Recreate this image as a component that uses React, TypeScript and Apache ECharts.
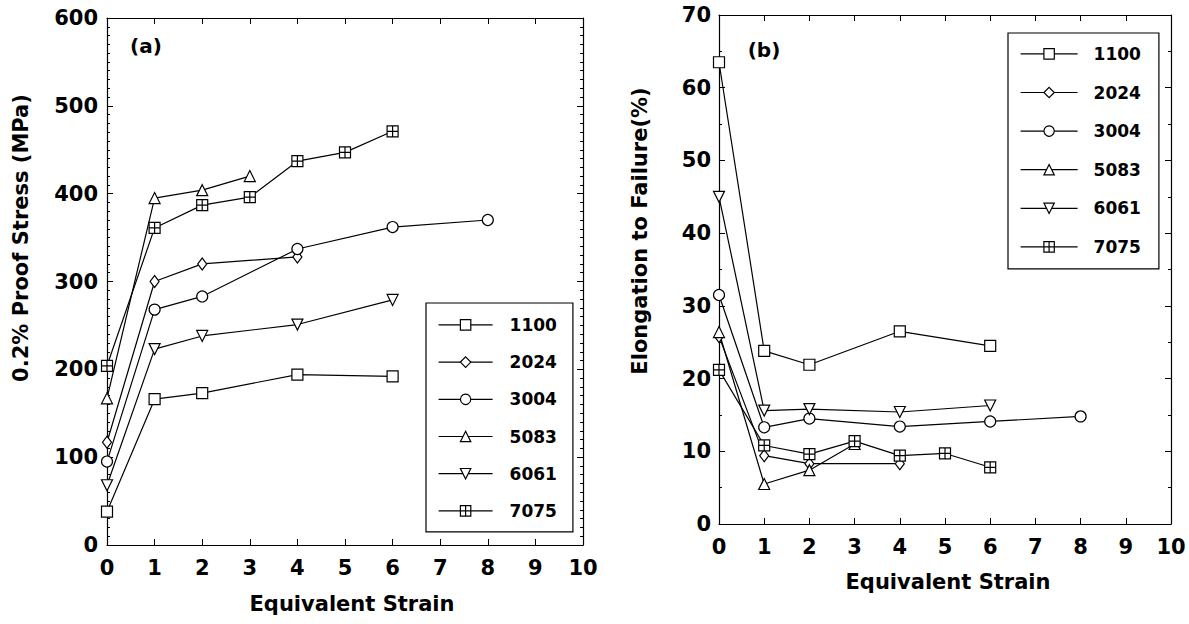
import React, { useEffect, useRef } from "react";
import * as echarts from "echarts";

const alloys = ["1100", "2024", "3004", "5083", "6061", "7075"];

const strain1100 = [0, 1, 2, 4, 6];
const strain2024 = [0, 1, 2, 4];
const strain3004 = [0, 1, 2, 4, 6, 8];
const strain5083 = [0, 1, 2, 3];
const strain6061 = [0, 1, 2, 4, 6];
const strain7075 = [0, 1, 2, 3, 4, 5, 6];

const proof1100 = [38, 166, 173, 194, 192];
const proof2024 = [117, 300, 320, 328];
const proof3004 = [95, 268, 283, 337, 362, 370];
const proof5083 = [167, 395, 404, 420];
const proof6061 = [68, 223, 238, 251, 279];
const proof7075 = [204, 361, 387, 396, 437, 447, 471];

const elong1100 = [63.5, 23.8, 21.9, 26.5, 24.5];
const elong2024 = [25.8, 9.4, 8.3, 8.3];
const elong3004 = [31.5, 13.3, 14.5, 13.4, 14.1, 14.8];
const elong5083 = [26.4, 5.5, 7.4, 11.0];
const elong6061 = [45, 15.6, 15.8, 15.4, 16.3];
const elong7075 = [21.2, 10.8, 9.6, 11.4, 9.4, 9.7, 7.8];

const strainTicks = [0, 10, 1];
const proofTicks = [0, 600, 100];
const elongTicks = [0, 70, 10];

const strains = [strain1100, strain2024, strain3004, strain5083, strain6061, strain7075];
const proofs = [proof1100, proof2024, proof3004, proof5083, proof6061, proof7075];
const elongs = [elong1100, elong2024, elong3004, elong5083, elong6061, elong7075];

const symbols = ["rect", "diamond", "circle", "triangle", "triangle", "path://M0 0H10V10H0ZM5 0V10M0 5H10"];
const symbolRotates = [0, 0, 0, 0, 180, 0];
const symbolSizes: any[] = [11, [9, 12], 11, 11, 11, 11];

const FONT = "DejaVu Sans";

function makeSeries(i: number, panel: number) {
  const xs = strains[i];
  const ys = panel === 0 ? proofs[i] : elongs[i];
  return {
    type: "line",
    name: alloys[i],
    xAxisIndex: panel * 2,
    yAxisIndex: panel * 2,
    data: xs.map((x, k) => [x, ys[k]]),
    symbol: symbols[i],
    symbolSize: symbolSizes[i],
    symbolRotate: symbolRotates[i],
    showAllSymbol: true,
    lineStyle: { color: "#000", width: 1.2 },
    itemStyle: { color: "#fff", borderColor: "#000", borderWidth: 1.2 },
    emphasis: { disabled: true },
  };
}

function xAxisDef(grid: number, pos: "bottom" | "top", showLabel: boolean) {
  return {
    type: "value",
    gridIndex: grid,
    position: pos,
    min: strainTicks[0],
    max: strainTicks[1],
    interval: strainTicks[2],
    axisLine: { show: true, onZero: false, lineStyle: { color: "#000", width: 1.2 } },
    axisTick: { show: true, inside: true, length: 6, lineStyle: { color: "#000", width: 1 } },
    axisLabel: {
      show: showLabel,
      margin: 12,
      color: "#000",
      fontFamily: FONT,
      fontWeight: "bold",
      fontSize: 21,
    },
    splitLine: { show: false },
  };
}

function yAxisDef(grid: number, pos: "left" | "right", showLabel: boolean, ticks: number[], minorSplit: number, margin: number) {
  return {
    type: "value",
    gridIndex: grid,
    position: pos,
    min: ticks[0],
    max: ticks[1],
    interval: ticks[2],
    axisLine: { show: true, onZero: false, lineStyle: { color: "#000", width: 1.2 } },
    axisTick: { show: true, inside: true, length: 6, lineStyle: { color: "#000", width: 1 } },
    minorTick: { show: true, splitNumber: minorSplit, length: 3, lineStyle: { color: "#000", width: 1 } },
    axisLabel: {
      show: showLabel,
      margin,
      color: "#000",
      fontFamily: FONT,
      fontWeight: "bold",
      fontSize: 21,
    },
    splitLine: { show: false },
    minorSplitLine: { show: false },
  };
}

function legendDef(left: number, top: number, itemWidth: number, gap: number, padding: number[], textPad: number) {
  return {
    show: true,
    data: alloys,
    orient: "vertical",
    left,
    top,
    itemWidth,
    itemHeight: 13,
    itemGap: gap,
    padding,
    borderColor: "#000",
    borderWidth: 1.2,
    selectedMode: false,
    itemStyle: { color: "#fff", borderColor: "#000", borderWidth: 1.2 },
    lineStyle: { color: "#000", width: 1.2 },
    textStyle: {
      color: "#000",
      fontFamily: FONT,
      fontWeight: "bold",
      fontSize: 17,
      padding: [0, 0, 0, textPad],
    },
  };
}

function textEl(text: string, x: number, y: number, size: number, rotation = 0) {
  return {
    type: "text",
    x,
    y,
    rotation,
    style: {
      text,
      fill: "#000",
      font: `bold ${size}px "${FONT}"`,
      align: "center",
      verticalAlign: "middle",
    },
  };
}

export default function App() {
  const ref = useRef<HTMLDivElement>(null);
  useEffect(() => {
    if (!ref.current) return;
    const chart = echarts.init(ref.current, undefined, { renderer: "svg" });
    const series: any[] = [];
    for (let p = 0; p < 2; p++) for (let i = 0; i < alloys.length; i++) series.push(makeSeries(i, p));
    chart.setOption({
      animation: false,
      backgroundColor: "#fff",
      grid: [
        { left: 107, top: 18, width: 476, height: 527 },
        { left: 719, top: 15, width: 452, height: 509 },
      ],
      xAxis: [
        xAxisDef(0, "bottom", true),
        xAxisDef(0, "top", false),
        xAxisDef(1, "bottom", true),
        xAxisDef(1, "top", false),
      ],
      yAxis: [
        yAxisDef(0, "left", true, proofTicks, 10, 9),
        yAxisDef(0, "right", false, proofTicks, 10, 9),
        yAxisDef(1, "left", true, elongTicks, 2, 8),
        yAxisDef(1, "right", false, elongTicks, 2, 8),
      ],
      legend: [
        legendDef(426, 303, 54, 20.2, [13.4, 16, 12.4, 12], 12),
        legendDef(1008, 33, 57, 21.6, [12.4, 18, 13.4, 12], 11),
      ],
      graphic: [
        textEl("(a)", 146, 46, 20),
        textEl("(b)", 764, 50, 20),
        textEl("0.2% Proof Stress (MPa)", 21, 238, 21, Math.PI / 2),
        textEl("Elongation to Failure(%)", 640, 231, 21, Math.PI / 2),
        textEl("Equivalent Strain", 352, 604, 21),
        textEl("Equivalent Strain", 948, 582, 21),
      ],
      series,
    });
    return () => chart.dispose();
  }, []);
  return (
    <div
      ref={ref}
      style={{ position: "fixed", left: 0, top: 0, width: 1189, height: 624, background: "#fff" }}
    />
  );
}
